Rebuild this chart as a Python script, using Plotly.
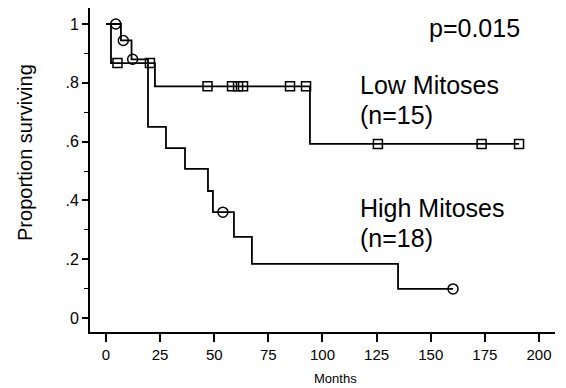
import plotly.graph_objects as go

# Kaplan-Meier step data (months, proportion surviving)
low_times = [0, 2.3, 22.6, 94.2]
low_surv = [1.0, 0.867, 0.788, 0.592]
low_end = 190.8
low_censor_t = [5.3, 20.3, 46.9, 58.2, 61.0, 63.3, 85.0, 92.4, 125.6, 173.5, 190.8]
low_censor_s = [0.867, 0.867, 0.788, 0.788, 0.788, 0.788, 0.788, 0.788, 0.592, 0.592, 0.592]

high_times = [0, 6.9, 11.8, 19.4, 27.7, 36.5, 47.1, 49.4, 59.1, 67.4, 134.9]
high_surv = [1.0, 0.944, 0.88, 0.65, 0.578, 0.507, 0.432, 0.36, 0.276, 0.184, 0.099]
high_end = 160.3
high_censor_t = [4.5, 8.0, 12.3, 54.0, 160.3]
high_censor_s = [1.0, 0.944, 0.88, 0.36, 0.099]

x_ticks = [0, 25, 50, 75, 100, 125, 150, 175, 200]
y_ticks = [0, 0.2, 0.4, 0.6, 0.8, 1.0]
y_ticktext = ["0", ".2", ".4", ".6", ".8", "1"]

FONT = "Liberation Sans, Arial, sans-serif"

fig = go.Figure()
fig.add_trace(go.Scatter(x=low_times + [low_end], y=low_surv + [low_surv[-1]],
                         mode="lines", line=dict(shape="hv", color="black", width=1.8),
                         showlegend=False, hoverinfo="skip"))
fig.add_trace(go.Scatter(x=high_times + [high_end], y=high_surv + [high_surv[-1]],
                         mode="lines", line=dict(shape="hv", color="black", width=1.8),
                         showlegend=False, hoverinfo="skip"))
fig.add_trace(go.Scatter(x=low_censor_t, y=low_censor_s, mode="markers",
                         marker=dict(symbol="square-open", size=9, color="black",
                                     line=dict(width=1.5, color="black")),
                         showlegend=False))
fig.add_trace(go.Scatter(x=high_censor_t, y=high_censor_s, mode="markers",
                         marker=dict(symbol="circle-open", size=10, color="black",
                                     line=dict(width=1.5, color="black")),
                         showlegend=False))

ann = [
    dict(text="p=0.015", x=192.1, y=0.986, xref="x", yref="y", xanchor="right",
         yanchor="middle", font=dict(size=25)),
    dict(text="Low Mitoses", x=116.4, y=0.793, xref="x", yref="y", xanchor="left",
         yanchor="middle", font=dict(size=25)),
    dict(text="(n=15)", x=116.4, y=0.690, xref="x", yref="y", xanchor="left",
         yanchor="middle", font=dict(size=25)),
    dict(text="High Mitoses", x=116.4, y=0.374, xref="x", yref="y", xanchor="left",
         yanchor="middle", font=dict(size=25)),
    dict(text="(n=18)", x=116.4, y=0.272, xref="x", yref="y", xanchor="left",
         yanchor="middle", font=dict(size=25)),
    dict(text="Proportion surviving", x=-0.1398, y=0.5556, xref="paper", yref="paper",
         textangle=-90, xanchor="center", yanchor="middle", font=dict(size=20)),
    dict(text="Months", x=0.527, y=-0.145, xref="paper", yref="paper",
         xanchor="center", yanchor="middle", font=dict(size=13)),
]
for a in ann:
    a["showarrow"] = False
    a["font"]["color"] = "black"
    a["font"]["family"] = FONT

fig.update_layout(
    width=566, height=388,
    margin=dict(l=90, r=11, t=8, b=56),
    plot_bgcolor="white", paper_bgcolor="white",
    font=dict(family=FONT, color="black"),
    annotations=ann,
    xaxis=dict(range=[-7.39, 207.4], tickvals=x_ticks, ticks="outside", ticklen=8,
               tickwidth=1.5, tickcolor="black", showline=True, linecolor="black",
               linewidth=1.8, showgrid=False, zeroline=False,
               tickfont=dict(size=15, color="black")),
    yaxis=dict(range=[-0.0476, 1.0544], tickvals=y_ticks, ticktext=y_ticktext,
               ticks="outside", ticklen=6, tickwidth=1.5, tickcolor="black",
               showline=True, linecolor="black", linewidth=2, showgrid=False,
               zeroline=False, tickfont=dict(size=16, color="black"),
               minor=dict(dtick=0.1, ticks="outside", ticklen=4, tickwidth=1,
                          tickcolor="black")),
)

fig.write_html("out.html")
